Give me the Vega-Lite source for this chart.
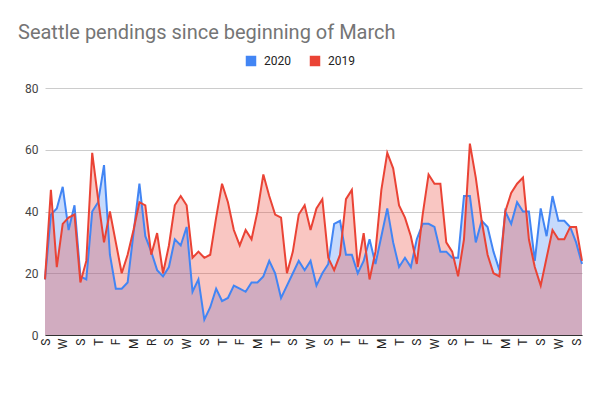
{
  "$schema": "https://vega.github.io/schema/vega-lite/v6.json",
  "width": 537,
  "height": 247,
  "autosize": {"type": "none"},
  "padding": {"left": 45, "top": 88, "right": 18, "bottom": 63},
  "background": "white",
  "title": {
    "text": "Seattle pendings since beginning of March",
    "anchor": "start",
    "frame": "group",
    "dx": -27,
    "offset": 12,
    "font": "Roboto",
    "fontSize": 20,
    "fontWeight": "normal",
    "color": "#757575"
  },
  "config": {"view": {"stroke": null}},
  "data": {
    "values": [
      {"d":0,"2020":18,"2019":18},{"d":1,"2020":39,"2019":47},{"d":2,"2020":41,"2019":22},{"d":3,"2020":48,"2019":36},
      {"d":4,"2020":34,"2019":38},{"d":5,"2020":42,"2019":39},{"d":6,"2020":19,"2019":17},{"d":7,"2020":18,"2019":24},
      {"d":8,"2020":40,"2019":59},{"d":9,"2020":43,"2019":44},{"d":10,"2020":55,"2019":30},{"d":11,"2020":26,"2019":40},
      {"d":12,"2020":15,"2019":30},{"d":13,"2020":15,"2019":20},{"d":14,"2020":17,"2019":26},{"d":15,"2020":33,"2019":34},
      {"d":16,"2020":49,"2019":43},{"d":17,"2020":32,"2019":42},{"d":18,"2020":27,"2019":26},{"d":19,"2020":21,"2019":33},
      {"d":20,"2020":19,"2019":20},{"d":21,"2020":22,"2019":29},{"d":22,"2020":31,"2019":42},{"d":23,"2020":29,"2019":45},
      {"d":24,"2020":35,"2019":42},{"d":25,"2020":14,"2019":25},{"d":26,"2020":18,"2019":27},{"d":27,"2020":5,"2019":25},
      {"d":28,"2020":9,"2019":26},{"d":29,"2020":15,"2019":38},{"d":30,"2020":11,"2019":49},{"d":31,"2020":12,"2019":43},
      {"d":32,"2020":16,"2019":34},{"d":33,"2020":15,"2019":29},{"d":34,"2020":14,"2019":34},{"d":35,"2020":17,"2019":31},
      {"d":36,"2020":17,"2019":40},{"d":37,"2020":19,"2019":52},{"d":38,"2020":24,"2019":45},{"d":39,"2020":20,"2019":39},
      {"d":40,"2020":12,"2019":38},{"d":41,"2020":16,"2019":20},{"d":42,"2020":20,"2019":27},{"d":43,"2020":24,"2019":39},
      {"d":44,"2020":21,"2019":42},{"d":45,"2020":24,"2019":34},{"d":46,"2020":16,"2019":41},{"d":47,"2020":20,"2019":44},
      {"d":48,"2020":23,"2019":25},{"d":49,"2020":36,"2019":21},{"d":50,"2020":37,"2019":26},{"d":51,"2020":26,"2019":44},
      {"d":52,"2020":26,"2019":47},{"d":53,"2020":20,"2019":22},{"d":54,"2020":24,"2019":33},{"d":55,"2020":31,"2019":18},
      {"d":56,"2020":23,"2019":27},{"d":57,"2020":32,"2019":47},{"d":58,"2020":41,"2019":59},{"d":59,"2020":30,"2019":54},
      {"d":60,"2020":22,"2019":42},{"d":61,"2020":25,"2019":38},{"d":62,"2020":22,"2019":32},{"d":63,"2020":31,"2019":23},
      {"d":64,"2020":36,"2019":39},{"d":65,"2020":36,"2019":52},{"d":66,"2020":35,"2019":49},{"d":67,"2020":27,"2019":49},
      {"d":68,"2020":27,"2019":30},{"d":69,"2020":25,"2019":27},{"d":70,"2020":25,"2019":19},{"d":71,"2020":45,"2019":31},
      {"d":72,"2020":45,"2019":62},{"d":73,"2020":30,"2019":51},{"d":74,"2020":37,"2019":37},{"d":75,"2020":35,"2019":26},
      {"d":76,"2020":27,"2019":20},{"d":77,"2020":21,"2019":19},{"d":78,"2020":40,"2019":40},{"d":79,"2020":36,"2019":46},
      {"d":80,"2020":43,"2019":49},{"d":81,"2020":40,"2019":51},{"d":82,"2020":40,"2019":31},{"d":83,"2020":24,"2019":22},
      {"d":84,"2020":41,"2019":16},{"d":85,"2020":32,"2019":25},{"d":86,"2020":45,"2019":34},{"d":87,"2020":37,"2019":31},
      {"d":88,"2020":37,"2019":31},{"d":89,"2020":35,"2019":35},{"d":90,"2020":30,"2019":35},{"d":91,"2020":23,"2019":24}
    ]
  },
  "transform": [{"fold": ["2020", "2019"], "as": ["year", "v"]}],
  "encoding": {
    "x": {
      "field": "d",
      "type": "quantitative",
      "scale": {"domain": [0, 91], "nice": false, "zero": false},
      "axis": {
        "title": null,
        "values": [0,3,6,9,12,15,18,21,24,27,30,33,36,39,42,45,48,51,54,57,60,63,66,69,72,75,78,81,84,87,90],
        "labelExpr": "['S','W','S','T','F','M','R','S','W','S','T','F','M','T','S','W','S','T','F','M','T','S','W','S','T','F','M','T','S','W','S'][round(datum.value/3)]",
        "labelAngle": 270,
        "labelFont": "Roboto",
        "labelFontSize": 12,
        "labelColor": "#222222",
        "labelPadding": 3,
        "ticks": false,
        "grid": false,
        "domainColor": "#333333",
        "domainWidth": 1,
        "labelOverlap": false
      }
    },
    "y": {
      "field": "v",
      "type": "quantitative",
      "stack": null,
      "scale": {"domain": [0, 80], "nice": false},
      "axis": {
        "title": null,
        "values": [0, 20, 40, 60, 80],
        "ticks": false,
        "domain": false,
        "gridColor": "#cccccc",
        "labelFont": "Roboto",
        "labelFontSize": 12,
        "labelColor": "#444444",
        "labelPadding": 7
      }
    },
    "color": {
      "field": "year",
      "type": "nominal",
      "sort": ["2020", "2019"],
      "scale": {"domain": ["2020", "2019"], "range": ["#4285F4", "#EA4335"]},
      "legend": {
        "title": null,
        "orient": "none",
        "direction": "horizontal",
        "legendX": 200,
        "legendY": -33,
        "symbolType": "square",
        "symbolSize": 110,
        "symbolStrokeWidth": 0,
        "symbolOpacity": 1,
        "labelFont": "Roboto",
        "labelFontSize": 12,
        "labelColor": "#222222",
        "columnPadding": 18,
        "labelOffset": 7
      }
    }
  },
  "layer": [
    {"mark": {"type": "area", "opacity": 0.3}},
    {"mark": {"type": "line", "strokeWidth": 2}}
  ]
}
